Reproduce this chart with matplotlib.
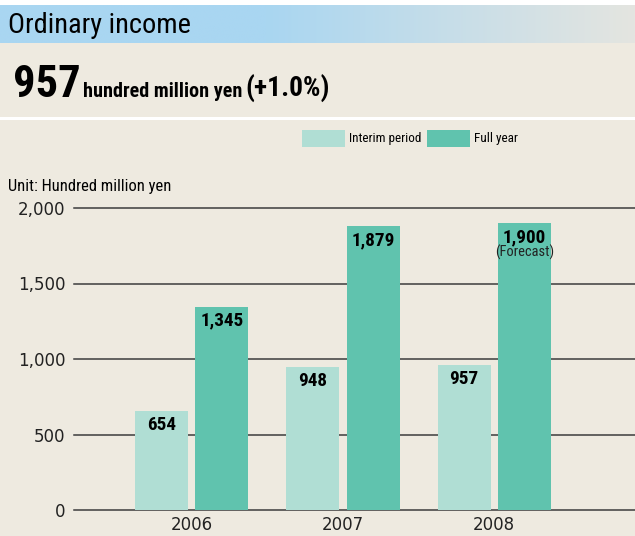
import numpy as np
import matplotlib
matplotlib.use("Agg")
import matplotlib.pyplot as plt
from matplotlib import font_manager as fm
from matplotlib.patches import Rectangle

# data
years = ["2006", "2007", "2008"]
interim = [654, 948, 957]
full_year = [1345, 1879, 1900]
interim_labels = ["654", "948", "957"]
full_labels = ["1,345", "1,879", "1,900"]
yticks = [0, 500, 1000, 1500, 2000]
ytick_labels = ["0", "500", "1,000", "1,500", "2,000"]

BG = "#EEEAE0"
LIGHT = "#B0DED4"
DARK = "#60C3AE"
W, H = 635, 536


def narrow_family():
    # look for some condensed face, otherwise fall back to a narrow-ish sans
    names = {f.name for f in fm.fontManager.ttflist}
    for n in ["Liberation Sans Narrow", "Roboto Condensed", "Open Sans Condensed",
              "DejaVu Sans Condensed", "Noto Sans Condensed"]:
        if n in names:
            return n, "normal"
    for f in fm.fontManager.ttflist:
        if f.stretch in ("condensed", "semi-condensed", "extra-condensed") or \
                (isinstance(f.stretch, int) and f.stretch < 500):
            return f.name, "condensed"
    return "Roboto", "normal"


NARROW, STRETCH = narrow_family()

fig = plt.figure(figsize=(6.35, 5.36), dpi=100)
fig.patch.set_facecolor(BG)
renderer = fig.canvas.get_renderer()


def fit(t, width_px, grow=1.1):
    # size a text to about the reference width, a bit larger since the
    # reference face is narrower than ours
    bb = t.get_window_extent(renderer)
    t.set_fontsize(t.get_fontsize() * width_px / bb.width * grow)


# background / header drawn in pixel coordinates
bg = fig.add_axes([0, 0, 1, 1])
bg.set_xlim(0, W)
bg.set_ylim(H, 0)
bg.axis("off")
bg.add_patch(Rectangle((0, 0), W, 5, color="white", lw=0))
xs = np.linspace(0, 1, 400)
t = np.clip((xs - 0.42) / 0.58, 0, 1)
c0 = np.array([0xA9, 0xD6, 0xF1]) / 255
c1 = np.array([0xE4, 0xE5, 0xE0]) / 255
grad = (c0[None, :] * (1 - t[:, None]) + c1[None, :] * t[:, None])[None, :, :]
bg.imshow(grad, extent=(0, W, 43, 5), aspect="auto", interpolation="bilinear")
bg.add_patch(Rectangle((0, 117), W, 3, color="white", lw=0))
bg.set_xlim(0, W)
bg.set_ylim(H, 0)

kw = dict(family=NARROW, stretch=STRETCH)
t1 = bg.text(8, 33, "Ordinary income", fontsize=22, va="baseline", ha="left", **kw)
fit(t1, 160, 1.14)
t2 = bg.text(13, 97, "957", fontsize=36, weight="bold", va="baseline", ha="left", **kw)
fit(t2, 65, 1.04)
t3 = bg.text(83, 97, "hundred million yen", fontsize=17, weight="bold",
             va="baseline", ha="left", **kw)
fit(t3, 152, 1.05)
t4 = bg.text(245, 97, "(+1.0%)", fontsize=22, weight="bold",
             va="baseline", ha="left", **kw)
fit(t4, 78, 1.08)

# legend
bg.add_patch(Rectangle((302, 130), 43, 17, color=LIGHT, lw=0))
t5 = bg.text(349, 138.5, "Interim period", fontsize=10.5, va="center", ha="left", **kw)
fit(t5, 69, 1.05)
bg.add_patch(Rectangle((427, 130), 43, 17, color=DARK, lw=0))
t6 = bg.text(474, 138.5, "Full year", fontsize=10.5, va="center", ha="left", **kw)
fit(t6, 41, 1.08)

t7 = bg.text(8, 186, "Unit: Hundred million yen", fontsize=10.5,
             va="center", ha="left", **kw)
fit(t7, 152, 1.08)

# chart axes: 0 at y=510px, 2000 at y=208px
ppu = (510 - 208) / 2000
ytop = 2200
ax = fig.add_axes([74 / W, (H - 510) / H, (W - 74) / W, ytop * ppu / H])
ax.set_facecolor("none")
ax.set_xlim(-0.778, 2.93)
ax.set_ylim(0, ytop)
for s in ax.spines.values():
    s.set_visible(False)

for v in yticks:
    ax.axhline(v, color="#3c3c3c", lw=1.1, zorder=1, clip_on=False)

x = np.arange(len(years))
off = 0.1987
bw = 0.351
ax.bar(x - off, interim, bw, color=LIGHT, zorder=2)
ax.bar(x + off, full_year, bw, color=DARK, zorder=2)

probe = ax.text(0, 0, "1,345", fontsize=13, weight="bold", **kw)
fit(probe, 40, 1.08)
vsize = probe.get_fontsize()
probe.remove()

for i in range(len(years)):
    ax.annotate(interim_labels[i], (x[i] - off, interim[i]), xytext=(0, -5),
                textcoords="offset pixels", ha="center", va="top",
                fontsize=vsize, weight="bold", zorder=3, **kw)
    ax.annotate(full_labels[i], (x[i] + off, full_year[i]), xytext=(0, -5),
                textcoords="offset pixels", ha="center", va="top",
                fontsize=vsize, weight="bold", zorder=3, **kw)
fc = ax.annotate("(Forecast)", (x[2] + off, full_year[2]), xytext=(0, -22),
                 textcoords="offset pixels", ha="center", va="top",
                 fontsize=11, color="#222222", zorder=3, **kw)
fit(fc, 59, 1.0)

ax.set_yticks(yticks)
ax.set_yticklabels(ytick_labels, fontsize=12, color="#222222")
ax.set_xticks(x)
ax.set_xticklabels(years, fontsize=12, color="#222222")
ax.tick_params(axis="y", length=0, pad=6)
ax.tick_params(axis="x", length=0, pad=4)

fig.savefig("out.png", dpi=100, facecolor=BG)
